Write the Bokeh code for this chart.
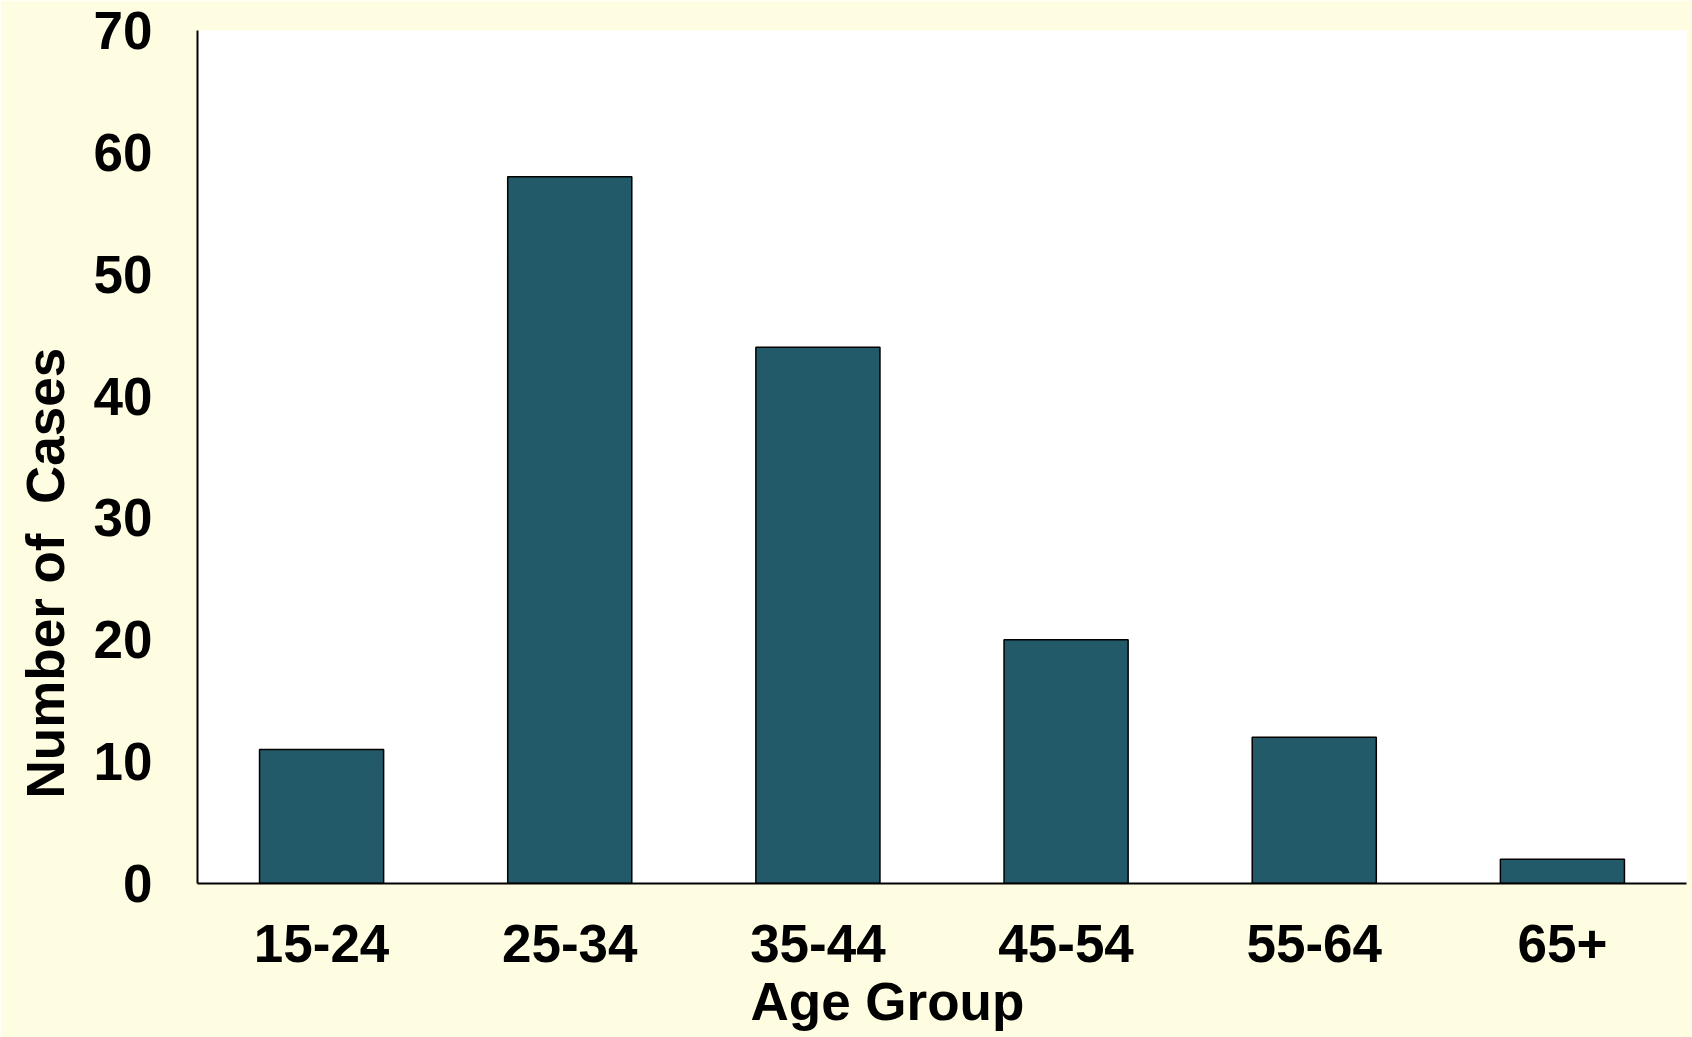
from bokeh.plotting import figure
from bokeh.models import Title, FixedTicker
from bokeh.embed import file_html
from bokeh.resources import INLINE

age_groups = ["15-24", "25-34", "35-44", "45-54", "55-64", "65+"]
cases = [11, 58, 44, 20, 12, 2]
y_ticks = [0, 10, 20, 30, 40, 50, 60, 70]

BG = "#FFFDE1"
BAR = "#235A69"
FONT = "Liberation Sans"

p = figure(x_range=age_groups, y_range=(0, 70), width=1692, height=1037,
           output_backend="svg", toolbar_location=None,
           min_border_left=197, min_border_right=6, min_border_top=30, min_border_bottom=154)

p.vbar(x=age_groups, top=cases, width=0.5, fill_color=BAR, line_color="black", line_width=1.5)

p.background_fill_color = "white"
p.border_fill_color = BG
p.outline_line_color = None
p.xgrid.grid_line_color = None
p.ygrid.grid_line_color = None

p.yaxis.ticker = FixedTicker(ticks=y_ticks)
for ax in (p.xaxis[0], p.yaxis[0]):
    ax.axis_line_color = "black"
    ax.axis_line_width = 2
    ax.major_tick_line_color = None
    ax.minor_tick_line_color = None
    ax.major_tick_out = 0
    ax.major_tick_in = 0
    ax.major_label_text_font = FONT
    ax.major_label_text_font_style = "bold"
    ax.major_label_text_font_size = "53px"
    ax.major_label_text_color = "black"
p.yaxis.major_label_standoff = 45
p.xaxis.major_label_standoff = 41

ytitle = Title(text="Number of\u00a0 Cases", align="left", offset=85, standoff=27,
               vertical_align="top", text_line_height=0.8,
               text_font=FONT, text_font_style="bold", text_font_size="53px", text_color="black")
xtitle = Title(text="Age Group", align="left", offset=553, standoff=11,
               text_line_height=0.8,
               text_font=FONT, text_font_style="bold", text_font_size="53px", text_color="black")
p.add_layout(ytitle, "left")
p.add_layout(xtitle, "below")

open("out.html", "w").write(file_html(p, INLINE))
